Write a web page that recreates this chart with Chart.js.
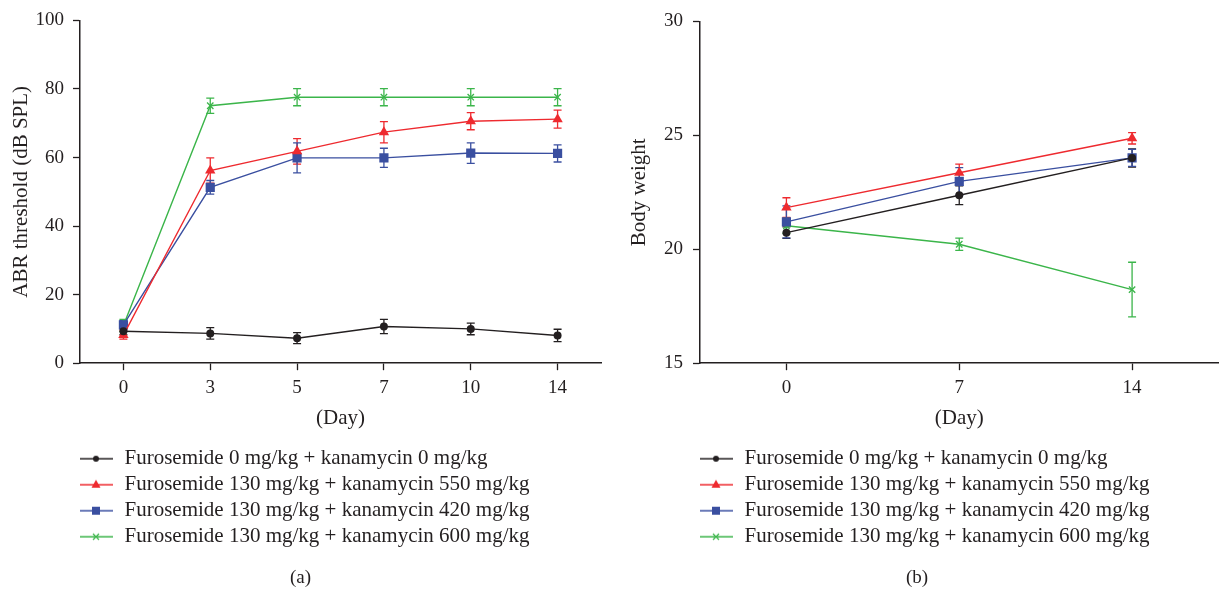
<!DOCTYPE html>
<html>
<head>
<meta charset="utf-8">
<script src="https://cdn.jsdelivr.net/npm/chart.js@4.4.1/dist/chart.umd.min.js"></script>
<style>
  html, body { margin: 0; padding: 0; background: #fff; }
  #wrap { position: relative; width: 1225px; height: 592px; overflow: hidden; }
  canvas { position: absolute; top: 0; }
  #chartA { left: 0; }
  #chartB { left: 612px; }
</style>
</head>
<body>
<div id="wrap">
  <canvas id="chartA" width="612" height="592"></canvas>
  <canvas id="chartB" width="613" height="592"></canvas>
</div>
<script>
(function () {
  'use strict';

  // ---- data ----
  var SERIES_NAMES = [
    'Furosemide 0 mg/kg + kanamycin 0 mg/kg',
    'Furosemide 130 mg/kg + kanamycin 550 mg/kg',
    'Furosemide 130 mg/kg + kanamycin 420 mg/kg',
    'Furosemide 130 mg/kg + kanamycin 600 mg/kg'
  ];

  // (a) ABR threshold
  var ABR_DAYS = ['0', '3', '5', '7', '10', '14'];
  var ABR_CTRL = [9.3, 8.7, 7.3, 10.7, 10.0, 8.1];
  var ABR_CTRL_ERR = [1.0, 1.7, 1.6, 2.1, 1.7, 1.8];
  var ABR_K550 = [8.2, 56.2, 61.8, 67.4, 70.6, 71.2];
  var ABR_K550_ERR = [1.2, 3.7, 3.7, 3.1, 2.5, 2.6];
  var ABR_K420 = [11.2, 51.3, 59.9, 59.9, 61.3, 61.2];
  var ABR_K420_ERR = [1.2, 2.0, 4.4, 2.8, 3.0, 2.5];
  var ABR_K600 = [11.0, 75.1, 77.6, 77.6, 77.6, 77.6];
  var ABR_K600_ERR = [1.8, 2.2, 2.5, 2.5, 2.5, 2.5];

  // (b) body weight
  var WT_DAYS = ['0', '7', '14'];
  var WT_CTRL = [20.73, 22.37, 24.01];
  var WT_CTRL_ERR = [0.25, 0.41, 0.4];
  var WT_K550 = [21.83, 23.36, 24.87];
  var WT_K550_ERR = [0.43, 0.38, 0.25];
  var WT_K420 = [21.2, 22.98, 24.01];
  var WT_K420_ERR = [0.7, 0.6, 0.37];
  var WT_K600 = [21.03, 20.22, 18.23];
  var WT_K600_ERR = [0.33, 0.27, 1.2];

  // ---- styles ----
  var FONT = "'Liberation Serif', 'Times New Roman', serif";
  var TEXT = '#231f20';
  var AXIS = '#231f20';
  var COLORS = ['#231f20', '#ee2a2f', '#3a4fa0', '#3bb54a'];
  var STYLES = ['circle', 'triangle', 'rect', 'crossRot'];
  var RADII = [4, 6, 6.5, 4.5];

  // legend sample: short line with the marker in the middle
  function legendGlyph(color, style) {
    var c = document.createElement('canvas');
    c.width = 41; c.height = 14;
    var g = c.getContext('2d');
    g.strokeStyle = color;
    g.fillStyle = color;
    g.lineWidth = 1.4;
    g.beginPath(); g.moveTo(0, 7); g.lineTo(34, 7); g.stroke();
    var cx = 17, cy = 7;
    g.beginPath();
    if (style === 'circle') {
      g.arc(cx, cy, 3, 0, Math.PI * 2); g.fill();
    } else if (style === 'triangle') {
      g.moveTo(cx, cy - 5); g.lineTo(cx + 4.5, cy + 3); g.lineTo(cx - 4.5, cy + 3); g.closePath(); g.fill();
    } else if (style === 'rect') {
      g.fillRect(cx - 4, cy - 4, 8, 8);
    } else {
      g.lineWidth = 1.2;
      g.moveTo(cx - 3, cy - 3); g.lineTo(cx + 3, cy + 3);
      g.moveTo(cx + 3, cy - 3); g.lineTo(cx - 3, cy + 3); g.stroke();
    }
    return c;
  }
  var GLYPHS = COLORS.map(function (col, i) { return legendGlyph(col, STYLES[i]); });

  var errorBarPlugin = {
    id: 'errorBars',
    beforeDatasetsDraw: function (chart) {
      var ctx = chart.ctx;
      var yScale = chart.scales.y;
      chart.data.datasets.forEach(function (ds, i) {
        var meta = chart.getDatasetMeta(i);
        if (!ds.errors) return;
        ctx.save();
        ctx.strokeStyle = ds.borderColor;
        ctx.lineWidth = 1.3;
        meta.data.forEach(function (pt, j) {
          var v = ds.data[j], e = ds.errors[j];
          var top = yScale.getPixelForValue(v + e);
          var bot = yScale.getPixelForValue(v - e);
          ctx.beginPath();
          ctx.moveTo(pt.x, top); ctx.lineTo(pt.x, bot);
          ctx.moveTo(pt.x - 4, top); ctx.lineTo(pt.x + 4, top);
          ctx.moveTo(pt.x - 4, bot); ctx.lineTo(pt.x + 4, bot);
          ctx.stroke();
        });
        ctx.restore();
      });
    }
  };

  function makeDatasets(values, errors) {
    return values.map(function (vals, i) {
      return {
        label: SERIES_NAMES[i],
        data: vals,
        errors: errors[i],
        borderColor: COLORS[i],
        backgroundColor: COLORS[i],
        pointStyle: STYLES[i],
        pointRadius: RADII[i],
        pointBorderWidth: STYLES[i] === 'crossRot' ? 1.3 : 0,
        borderWidth: 1.4,
        tension: 0,
        fill: false
      };
    });
  }

  function createChart(canvasId, days, datasets, cfg) {
    var ctx = document.getElementById(canvasId).getContext('2d');
    return new Chart(ctx, {
      type: 'line',
      data: { labels: days, datasets: datasets },
      plugins: [errorBarPlugin],
      options: {
        responsive: false,
        animation: false,
        layout: { padding: { top: 20, right: cfg.padRight, left: 0, bottom: 0 } },
        plugins: {
          tooltip: { enabled: false },
          legend: {
            position: 'bottom',
            align: 'start',
            fullSize: false,
            labels: {
              usePointStyle: true,
              pointStyleWidth: 29,
              boxHeight: 14,
              padding: 5,
              color: TEXT,
              font: { family: FONT, size: 21 },
              generateLabels: function (chart) {
                return chart.data.datasets.map(function (ds, i) {
                  return {
                    text: ds.label,
                    pointStyle: GLYPHS[i],
                    fillStyle: ds.borderColor,
                    strokeStyle: ds.borderColor,
                    lineWidth: 0,
                    fontColor: TEXT,
                    hidden: false,
                    datasetIndex: i
                  };
                });
              }
            }
          },
          title: {
            display: true,
            position: 'bottom',
            text: cfg.panel,
            color: TEXT,
            font: { family: FONT, size: 19, weight: 'normal' },
            padding: { top: 9, bottom: 3 }
          }
        },
        scales: {
          x: {
            type: 'category',
            offset: true,
            grid: { drawOnChartArea: false, offset: false, tickLength: 7, tickWidth: 1.3, tickColor: AXIS },
            border: { color: AXIS, width: 1.5 },
            ticks: { color: TEXT, font: { family: FONT, size: 19 }, padding: 6, maxRotation: 0 },
            title: { display: true, text: '(Day)', color: TEXT, font: { family: FONT, size: 21 }, padding: { top: 4, bottom: 12 } },
            afterFit: function (scale) { scale.height = 80; }
          },
          y: {
            min: cfg.yMin,
            max: cfg.yMax,
            grid: { drawOnChartArea: false, tickLength: 7, tickWidth: 1.3, tickColor: AXIS },
            border: { color: AXIS, width: 1.5 },
            ticks: { stepSize: cfg.yStep, color: TEXT, font: { family: FONT, size: 19 }, padding: cfg.tickPad },
            title: { display: true, text: cfg.yTitle, color: TEXT, font: { family: FONT, size: 21 }, padding: { top: cfg.titlePad, bottom: 0 } },
            afterFit: function (scale) { scale.width = cfg.yWidth; }
          }
        }
      }
    });
  }

  createChart('chartA', ABR_DAYS,
    makeDatasets([ABR_CTRL, ABR_K550, ABR_K420, ABR_K600],
                 [ABR_CTRL_ERR, ABR_K550_ERR, ABR_K420_ERR, ABR_K600_ERR]),
    { panel: '(a)', yTitle: 'ABR threshold (dB SPL)', yMin: 0, yMax: 100, yStep: 20,
      yWidth: 80, padRight: 11, tickPad: 9, titlePad: 9 });

  createChart('chartB', WT_DAYS,
    makeDatasets([WT_CTRL, WT_K550, WT_K420, WT_K600],
                 [WT_CTRL_ERR, WT_K550_ERR, WT_K420_ERR, WT_K600_ERR]),
    { panel: '(b)', yTitle: 'Body weight', yMin: 15, yMax: 30, yStep: 5,
      yWidth: 88, padRight: 3, tickPad: 10, titlePad: 15 });
})();
</script>
</body>
</html>
